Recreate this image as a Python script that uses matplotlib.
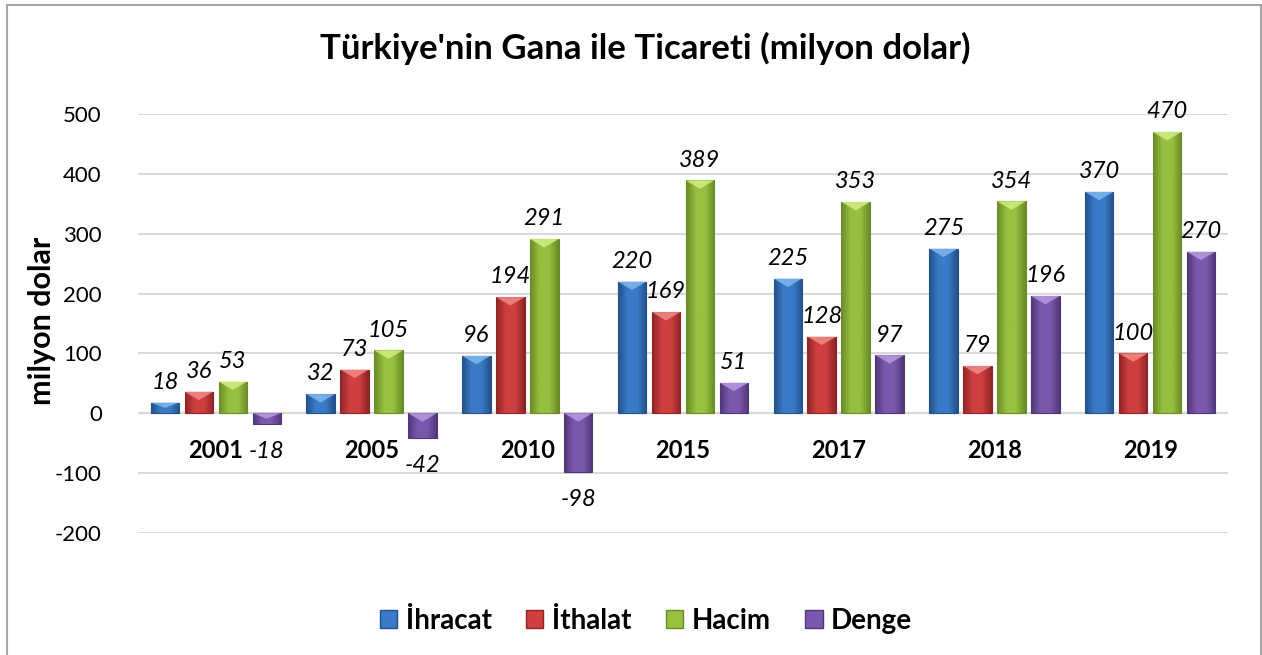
import matplotlib.pyplot as plt
import numpy as np
from matplotlib.colors import LinearSegmentedColormap
from matplotlib.patches import Rectangle, Polygon

plt.rcParams['font.family'] = ['Lato', 'DejaVu Sans']
plt.rcParams['axes.unicode_minus'] = False

years = ['2001', '2005', '2010', '2015', '2017', '2018', '2019']
ihracat = [18, 32, 96, 220, 225, 275, 370]
ithalat = [36, 73, 194, 169, 128, 79, 100]
hacim = [53, 105, 291, 389, 353, 354, 470]
denge = [-18, -42, -98, 51, 97, 196, 270]

series = [ihracat, ithalat, hacim, denge]
names = ['İhracat', 'İthalat', 'Hacim', 'Denge']
# (dark edge, middle, light top)
shades = [
    ('#24508a', '#3a7bc8', '#7fb6ee'),
    ('#8e2426', '#cf3f40', '#f08a88'),
    ('#6a8a26', '#97c040', '#d2ee80'),
    ('#4f3777', '#7b58ad', '#b79be0'),
]

fig = plt.figure(figsize=(12.62, 6.55), dpi=100)
ax = fig.add_axes([138 / 1262, 122 / 655, 1090 / 1262, 419 / 655])

x = np.arange(len(years))
pitch = 0.218
width = 0.183

for i, (vals, sh) in enumerate(zip(series, shades)):
    bars = ax.bar(x + (i - 1.5) * pitch, vals, width, color=sh[1],
                  edgecolor=sh[0], linewidth=0.8, zorder=3)
    cmap = LinearSegmentedColormap.from_list('g' + str(i), [sh[0], sh[1], sh[1], sh[0]])
    grad = np.linspace(0, 1, 64).reshape(1, -1)
    for b, v in zip(bars, vals):
        x0, y0 = b.get_x(), b.get_y()
        w, h = b.get_width(), b.get_height()
        im = ax.imshow(grad, cmap=cmap, aspect='auto', zorder=3.5,
                       extent=(x0, x0 + w, y0, y0 + h), interpolation='bicubic')
        im.set_clip_path(b)
        # light bevel at the top end
        top = max(y0, y0 + h)
        d = min(14, abs(h) / 2)
        if v >= 0:
            tri = Polygon([(x0, top), (x0 + w, top), (x0 + w / 2, top - d)],
                          closed=True, facecolor=sh[2], edgecolor='none',
                          alpha=0.85, zorder=4)
        else:
            tri = Polygon([(x0, 0), (x0 + w, 0), (x0 + w / 2, -d)],
                          closed=True, facecolor=sh[2], edgecolor='none',
                          alpha=0.85, zorder=4)
        ax.add_patch(tri)
        if v >= 0:
            ax.annotate(str(v), (x0 + w / 2, v), xytext=(0, 7),
                        textcoords='offset points', ha='center', va='bottom',
                        fontsize=17, style='italic', zorder=5)
        else:
            ax.annotate(str(v), (x0 + w / 2, v), xytext=(0, -12),
                        textcoords='offset points', ha='center', va='top',
                        fontsize=17, style='italic', zorder=5)

for xi, yr in zip(x, years):
    ax.text(xi, -62, yr, ha='center', va='center', fontsize=17,
            fontweight='bold', zorder=5)

ax.set_xlim(-0.5, len(years) - 0.5)
ax.set_ylim(-200, 500)
ax.set_yticks(range(-200, 501, 100))
ax.tick_params(axis='y', length=0, labelsize=16, pad=26)
ax.set_xticks([])
ax.grid(axis='y', color='#d9d9d9', linewidth=1.5, zorder=0)
for s in ax.spines.values():
    s.set_visible(False)
ax.axhline(0, color='#d0d0d0', linewidth=1.5, zorder=1)

fig.text(42 / 1262, 1 - 321 / 655, 'milyon dolar', rotation=90, ha='center',
         va='center', fontsize=22, fontweight='bold')
fig.text(645 / 1262, 1 - 48 / 655, "Türkiye'nin Gana ile Ticareti (milyon dolar)",
         ha='center', va='center', fontsize=25, fontweight='bold')

handles = [Rectangle((0, 0), 1, 1, facecolor=sh[1], edgecolor=sh[0]) for sh in shades]
fig.legend(handles, names, loc='center', bbox_to_anchor=(646 / 1262, 1 - 621 / 655),
           ncol=4, frameon=False, prop={'weight': 'bold', 'size': 20},
           handlelength=0.62, handleheight=0.62, handletextpad=0.3, columnspacing=1.25)

fig.patches.append(Rectangle((7 / 1262, -0.01), 1254 / 1262, 1 - 5 / 655 + 0.01,
                             transform=fig.transFigure, fill=False,
                             edgecolor='#a6a6a6', linewidth=1.5))

fig.savefig('out.png', dpi=100)
